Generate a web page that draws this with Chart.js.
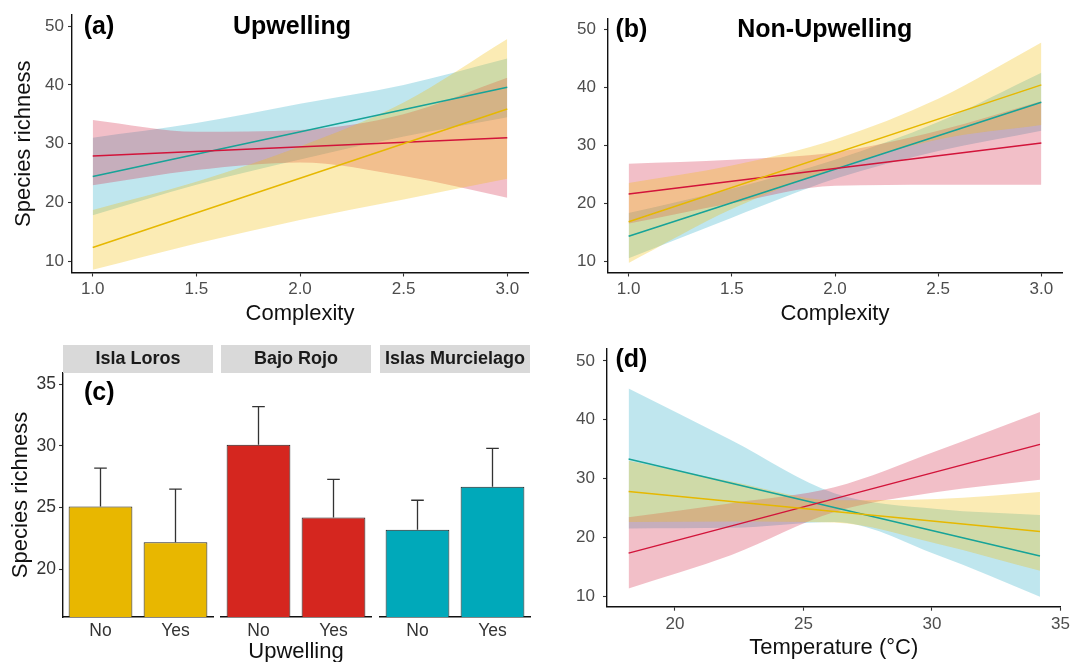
<!DOCTYPE html>
<html>
<head>
<meta charset="utf-8">
<title>Species richness</title>
<script src="https://cdn.jsdelivr.net/npm/chart.js@4.4.1/dist/chart.umd.min.js"></script>
<style>
  html, body { margin: 0; padding: 0; background: #fff; width: 1073px; height: 662px; overflow: hidden; }
  canvas { position: absolute; }
</style>
</head>
<body>
<canvas id="panelA" width="540" height="330" style="left:0px;top:0px"></canvas>
<canvas id="panelB" width="533" height="330" style="left:540px;top:0px"></canvas>
<canvas id="panelC1" width="225" height="326" style="left:0px;top:340px"></canvas>
<canvas id="panelC2" width="155" height="326" style="left:219px;top:340px"></canvas>
<canvas id="panelC3" width="160" height="326" style="left:378px;top:340px"></canvas>
<canvas id="panelD" width="533" height="332" style="left:540px;top:330px"></canvas>
<script>
// ---- data ----
// (a) / (b) complexity
const complexityX = [1.0, 1.5, 2.0, 2.5, 3.0];
const complexityEnds = [1.0, 3.0];
const complexityTicks = [1.0, 1.5, 2.0, 2.5, 3.0];
const complexityTickLabels = ['1.0', '1.5', '2.0', '2.5', '3.0'];
const richTicks = [10, 20, 30, 40, 50];
const richTickLabels = ['10', '20', '30', '40', '50'];

const upYellowFit = [12.3, 35.9];
const upRedFit = [27.9, 31.0];
const upTealFit = [24.4, 39.6];
const upYellowLo = [8.5, 13.0, 17.0, 20.5, 24.0];
const upYellowHi = [18.7, 23.5, 29.5, 37.0, 47.8];
const upRedLo = [22.9, 25.5, 26.8, 24.5, 20.8];
const upRedHi = [34.0, 32.0, 32.3, 35.0, 41.2];
const upTealLo = [17.8, 23.0, 27.3, 31.2, 34.5];
const upTealHi = [31.0, 33.5, 36.8, 40.0, 44.5];

const nonYellowFit = [16.8, 40.4];
const nonRedFit = [21.6, 30.4];
const nonTealFit = [14.3, 37.4];
const nonYellowLo = [9.7, 19.0, 26.0, 31.0, 33.5];
const nonYellowHi = [23.5, 26.5, 31.0, 38.0, 47.7];
const nonRedLo = [16.5, 20.0, 23.0, 23.2, 23.2];
const nonRedHi = [26.8, 27.5, 28.8, 32.5, 37.6];
const nonTealLo = [10.5, 17.5, 24.2, 29.0, 32.5];
const nonTealHi = [18.3, 22.5, 27.5, 34.0, 42.5];

// (c) bars
const sites = ['Isla Loros', 'Bajo Rojo', 'Islas Murcielago'];
const upwellingCats = ['No', 'Yes'];
const lorosMean = [25.1, 22.2];
const lorosUpper = [28.2, 26.5];
const rojoMean = [30.1, 24.2];
const rojoUpper = [33.2, 27.3];
const murcMean = [23.2, 26.7];
const murcUpper = [25.6, 29.8];
const barTicks = [20, 25, 30, 35];
const barTickLabels = ['20', '25', '30', '35'];

// (d) temperature
const tempX = [18.2, 22.2, 26.2, 30.2, 34.2];
const tempEnds = [18.2, 34.2];
const tempTicks = [20, 25, 30, 35];
const tempTickLabels = ['20', '25', '30', '35'];
const tempYellowFit = [27.8, 21.0];
const tempRedFit = [17.3, 35.8];
const tempTealFit = [33.3, 16.8];
const tempYellowLo = [22.6, 22.7, 22.5, 18.9, 14.3];
const tempYellowHi = [33.0, 29.5, 26.3, 26.5, 27.7];
const tempRedLo = [11.3, 17.0, 24.3, 27.7, 29.8];
const tempRedHi = [23.4, 25.8, 28.5, 34.7, 41.3];
const tempTealLo = [21.5, 21.6, 22.6, 17.0, 9.9];
const tempTealHi = [45.3, 36.5, 27.5, 24.8, 23.8];

// ---- styles ----
const FONT = "'Liberation Sans', Arial, Helvetica, sans-serif";
Chart.defaults.font.family = FONT;

const lineYellow = '#E6B800';
const lineRed = '#D2143A';
const lineTeal = '#17A398';
const bandYellow = 'rgba(241,188,8,0.30)';
const bandRed = 'rgba(211,42,72,0.30)';
const bandTeal = 'rgba(42,171,198,0.30)';
const barYellow = '#E8B700';
const barRed = '#D5261F';
const barTeal = '#00A9BA';

const pts = (xs, ys) => xs.map((x, i) => ({ x: x, y: ys[i] }));

function ribbon(xs, lo, hi, color) {
  return [
    { data: pts(xs, hi), fill: '+1', backgroundColor: color, borderColor: 'rgba(0,0,0,0)',
      borderWidth: 0, pointRadius: 0, cubicInterpolationMode: 'monotone', order: 2 },
    { data: pts(xs, lo), fill: false, borderColor: 'rgba(0,0,0,0)',
      borderWidth: 0, pointRadius: 0, cubicInterpolationMode: 'monotone', order: 2 }
  ];
}

function fitLine(xs, ys, color) {
  return { data: pts(xs, ys), fill: false, borderColor: color, borderWidth: 1.5, pointRadius: 0, order: 0 };
}

function textPlugin(items) {
  return {
    id: 'panelText',
    afterDraw(chart) {
      const ctx = chart.ctx, area = chart.chartArea;
      items.forEach(it => {
        ctx.save();
        ctx.font = 'bold ' + it.size + 'px ' + FONT;
        ctx.fillStyle = '#000';
        ctx.textAlign = it.align;
        ctx.textBaseline = 'middle';
        ctx.fillText(it.text, area.left + it.dx, area.top + it.dy);
        ctx.restore();
      });
    }
  };
}

function linePanel(id, cfg) {
  return new Chart(document.getElementById(id), {
    type: 'line',
    data: { datasets: cfg.datasets },
    options: {
      responsive: false, animation: false, devicePixelRatio: 1,
      layout: { padding: { top: cfg.padTop, right: cfg.padRight, left: 0, bottom: 0 } },
      plugins: { legend: { display: false }, tooltip: { enabled: false } },
      scales: {
        x: {
          type: 'linear', min: cfg.xMin, max: cfg.xMax,
          afterBuildTicks: s => { s.ticks = cfg.xTicks.map(v => ({ value: v })); },
          afterFit: s => { s.height = cfg.xHeight; },
          ticks: { callback: v => cfg.xLabels[cfg.xTicks.indexOf(v)], font: { size: 17 }, color: '#4d4d4d',
                   padding: 3, maxRotation: 0, autoSkip: false },
          grid: { drawOnChartArea: false, tickLength: 4, tickColor: '#333', tickWidth: 1.1 },
          border: { color: '#111', width: 1.4 },
          title: { display: true, text: cfg.xTitle, color: '#111', font: { size: 22 },
                   padding: { top: 0, bottom: cfg.xTitlePad } }
        },
        y: {
          type: 'linear', min: cfg.yMin, max: cfg.yMax,
          afterBuildTicks: s => { s.ticks = richTicks.map(v => ({ value: v })); },
          afterFit: s => { s.width = cfg.yWidth; },
          ticks: { callback: v => richTickLabels[richTicks.indexOf(v)], font: { size: 17 }, color: '#4d4d4d',
                   padding: cfg.yTickPad },
          grid: { drawOnChartArea: false, tickLength: 4, tickColor: '#333', tickWidth: 1.1 },
          border: { color: '#111', width: 1.4 },
          title: { display: !!cfg.yTitle, text: cfg.yTitle || '', color: '#111', font: { size: 22 },
                   padding: { top: 11, bottom: 0 } }
        }
      }
    },
    plugins: [textPlugin(cfg.labels)]
  });
}

// (a) Upwelling
linePanel('panelA', {
  datasets: [
    ...ribbon(complexityX, upYellowLo, upYellowHi, bandYellow),
    ...ribbon(complexityX, upRedLo, upRedHi, bandRed),
    ...ribbon(complexityX, upTealLo, upTealHi, bandTeal),
    fitLine(complexityEnds, upYellowFit, lineYellow),
    fitLine(complexityEnds, upRedFit, lineRed),
    fitLine(complexityEnds, upTealFit, lineTeal)
  ],
  padTop: 15, padRight: 12, xHeight: 57.5, yWidth: 72, yTickPad: 4,
  xMin: 0.9, xMax: 3.1, yMin: 8.05, yMax: 51.9,
  xTicks: complexityTicks, xLabels: complexityTickLabels,
  xTitle: 'Complexity', xTitlePad: 3, yTitle: 'Species richness',
  labels: [
    { text: '(a)', dx: 11.7, dy: 12, align: 'left', size: 25 },
    { text: 'Upwelling', dx: 220, dy: 12, align: 'center', size: 25 }
  ]
});

// (b) Non-Upwelling
linePanel('panelB', {
  datasets: [
    ...ribbon(complexityX, nonYellowLo, nonYellowHi, bandYellow),
    ...ribbon(complexityX, nonRedLo, nonRedHi, bandRed),
    ...ribbon(complexityX, nonTealLo, nonTealHi, bandTeal),
    fitLine(complexityEnds, nonYellowFit, lineYellow),
    fitLine(complexityEnds, nonRedFit, lineRed),
    fitLine(complexityEnds, nonTealFit, lineTeal)
  ],
  padTop: 15, padRight: 11, xHeight: 57.5, yWidth: 68, yTickPad: 8,
  xMin: 0.9, xMax: 3.1, yMin: 8.05, yMax: 51.9,
  xTicks: complexityTicks, xLabels: complexityTickLabels,
  xTitle: 'Complexity', xTitlePad: 3, yTitle: '',
  labels: [
    { text: '(b)', dx: 7.5, dy: 12, align: 'left', size: 25 },
    { text: 'Non-Upwelling', dx: 216.7, dy: 12, align: 'center', size: 25 }
  ]
});

// (d) Temperature
linePanel('panelD', {
  datasets: [
    ...ribbon(tempX, tempYellowLo, tempYellowHi, bandYellow),
    ...ribbon(tempX, tempRedLo, tempRedHi, bandRed),
    ...ribbon(tempX, tempTealLo, tempTealHi, bandTeal),
    fitLine(tempEnds, tempYellowFit, lineYellow),
    fitLine(tempEnds, tempRedFit, lineRed),
    fitLine(tempEnds, tempTealFit, lineTeal)
  ],
  padTop: 18, padRight: 11, xHeight: 55.3, yWidth: 67, yTickPad: 8,
  xMin: 17.36, xMax: 35.0, yMin: 8.19, yMax: 52.16,
  xTicks: tempTicks, xLabels: tempTickLabels,
  xTitle: 'Temperature (°C)', xTitlePad: 1, yTitle: '',
  labels: [
    { text: '(d)', dx: 8.5, dy: 11.7, align: 'left', size: 25 }
  ]
});

// (c) bars, one chart per site facet
function errorBarPlugin(upper) {
  return {
    id: 'errorBars',
    afterDatasetsDraw(chart) {
      const ctx = chart.ctx, y = chart.scales.y;
      const meta = chart.getDatasetMeta(0);
      ctx.save();
      ctx.strokeStyle = '#333';
      ctx.lineWidth = 1.3;
      meta.data.forEach((bar, i) => {
        const top = y.getPixelForValue(upper[i]);
        ctx.beginPath();
        ctx.moveTo(bar.x, bar.y);
        ctx.lineTo(bar.x, top);
        ctx.moveTo(bar.x - 6.3, top);
        ctx.lineTo(bar.x + 6.3, top);
        ctx.stroke();
      });
      ctx.restore();
    }
  };
}

function stripPlugin(label) {
  return {
    id: 'facetStrip',
    afterDraw(chart) {
      const ctx = chart.ctx, a = chart.chartArea;
      ctx.save();
      ctx.fillStyle = '#D9D9D9';
      ctx.fillRect(a.left, a.top - 28, a.right - a.left, 28);
      ctx.fillStyle = '#1a1a1a';
      ctx.font = 'bold 18px ' + FONT;
      ctx.textAlign = 'center';
      ctx.textBaseline = 'middle';
      ctx.fillText(label, (a.left + a.right) / 2, a.top - 14);
      ctx.restore();
    }
  };
}

function barFacet(id, cfg) {
  const extra = [errorBarPlugin(cfg.upper), stripPlugin(cfg.site)];
  if (cfg.labels) extra.push(textPlugin(cfg.labels));
  return new Chart(document.getElementById(id), {
    type: 'bar',
    data: {
      labels: upwellingCats,
      datasets: [{ data: cfg.means, backgroundColor: cfg.color, borderColor: '#222', borderWidth: 1,
                   barPercentage: 0.85, categoryPercentage: 1 }]
    },
    options: {
      responsive: false, animation: false, devicePixelRatio: 1,
      layout: { padding: { top: 33, right: cfg.padRight, left: cfg.padLeft, bottom: 0 } },
      plugins: { legend: { display: false }, tooltip: { enabled: false } },
      scales: {
        x: {
          afterFit: s => { s.height = 49; },
          ticks: { font: { size: 17.5 }, color: '#333', padding: 4 },
          grid: { display: false, drawTicks: false },
          border: { color: '#111', width: 1.4 },
          title: { display: !!cfg.xTitle, text: cfg.xTitle || '', color: '#111', font: { size: 22 },
                   padding: { top: 0, bottom: 1 } }
        },
        y: {
          display: cfg.showY, min: 16.13, max: 35.92,
          afterBuildTicks: s => { s.ticks = barTicks.map(v => ({ value: v })); },
          afterFit: s => { s.width = cfg.showY ? 63 : 0; },
          ticks: { callback: v => barTickLabels[barTicks.indexOf(v)], font: { size: 17.5 }, color: '#333', padding: 3 },
          grid: { drawOnChartArea: false, tickLength: 4, tickColor: '#333', tickWidth: 1.1 },
          border: { color: '#111', width: 1.4 },
          title: { display: true, text: 'Species richness', color: '#111', font: { size: 22 },
                   padding: { top: 8, bottom: 0 } }
        }
      }
    },
    plugins: extra
  });
}

barFacet('panelC1', {
  site: sites[0], means: lorosMean, upper: lorosUpper, color: barYellow,
  showY: true, padLeft: 0, padRight: 12,
  labels: [{ text: '(c)', dx: 21, dy: 20, align: 'left', size: 25 }]
});
barFacet('panelC2', {
  site: sites[1], means: rojoMean, upper: rojoUpper, color: barRed,
  showY: false, padLeft: 2, padRight: 3, xTitle: 'Upwelling'
});
barFacet('panelC3', {
  site: sites[2], means: murcMean, upper: murcUpper, color: barTeal,
  showY: false, padLeft: 2, padRight: 8
});
</script>
</body>
</html>
